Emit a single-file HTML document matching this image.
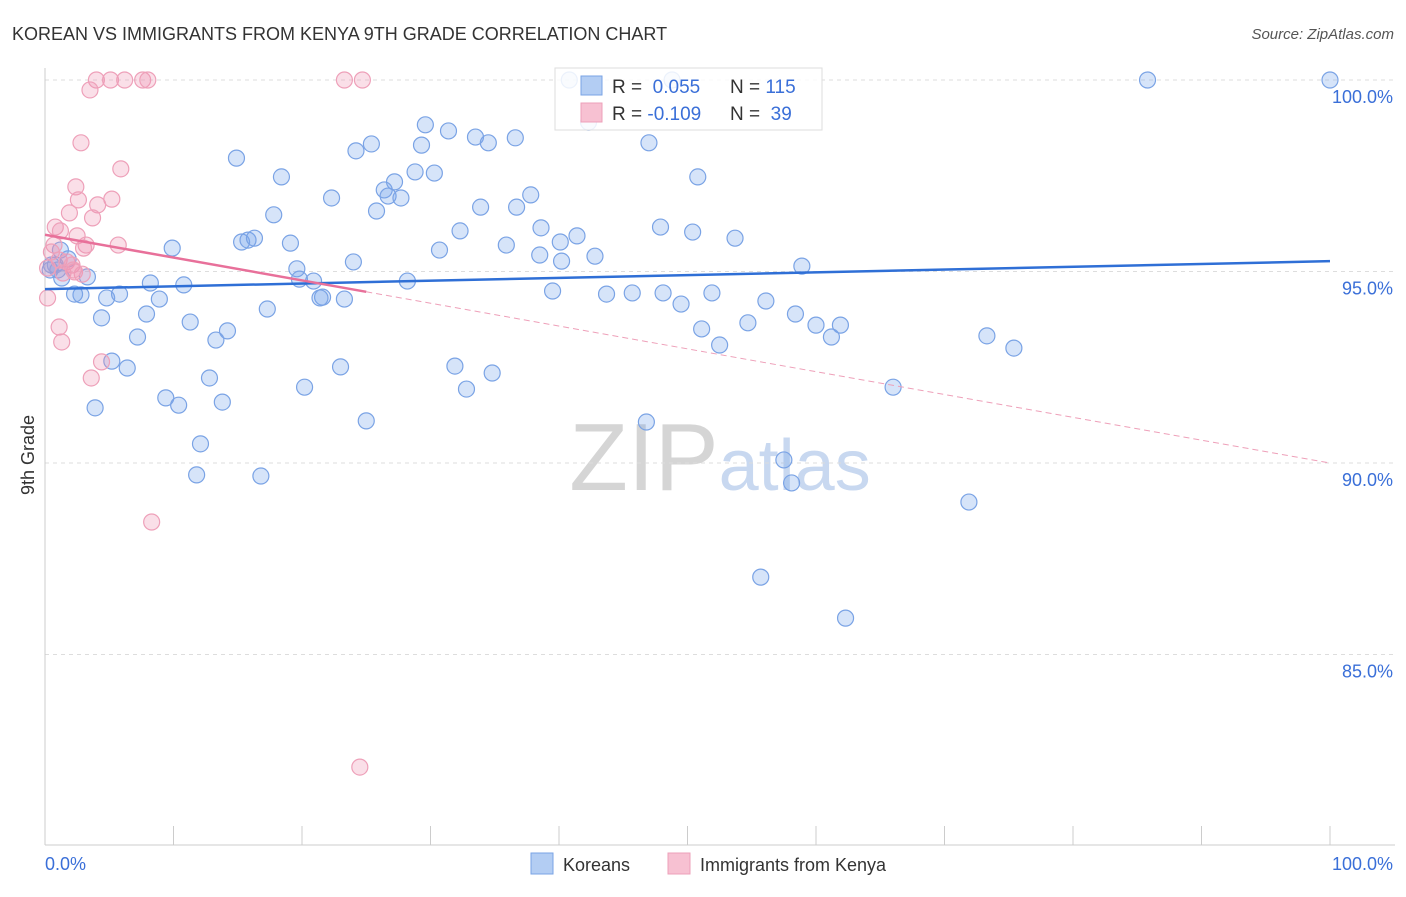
<!DOCTYPE html>
<html><head><meta charset="utf-8"><style>
body{margin:0;background:#fff;font-family:"Liberation Sans",sans-serif}
svg text{font-family:"Liberation Sans",sans-serif}
</style></head><body>
<svg id="chart" width="1406" height="892" xmlns="http://www.w3.org/2000/svg">
<text x="12" y="40" font-size="18" fill="#333">KOREAN VS IMMIGRANTS FROM KENYA 9TH GRADE CORRELATION CHART</text>
<text x="1394" y="39" font-size="15" fill="#555" text-anchor="end" font-style="italic">Source: ZipAtlas.com</text>
<text x="720" y="490" font-size="96" text-anchor="middle" fill="#ddd" font-family="Liberation Serif"><tspan fill="#d5d5d5">ZIP</tspan><tspan fill="#c8d8f0" font-family="Liberation Sans" font-size="72">atlas</tspan></text>
<text transform="translate(34,455) rotate(-90)" font-size="18" fill="#333" text-anchor="middle">9th Grade</text>
<g id="grid"></g><g id="pts"></g><g id="trend"></g>
<g>
<rect x="555" y="68" width="267" height="62" fill="rgba(255,255,255,0.85)" stroke="#ddd"/>
<rect x="581" y="76" width="21" height="19" fill="#b3cdf3" stroke="#7aa3e5"/>
<rect x="581" y="103" width="21" height="19" fill="#f7c1d2" stroke="#eea0b9"/>
<text x="612" y="93" font-size="19" fill="#333">R = <tspan fill="#3a6fd8">&#160;0.055</tspan></text>
<text x="730" y="93" font-size="19" fill="#333">N = <tspan fill="#3a6fd8">115</tspan></text>
<text x="612" y="120" font-size="19" fill="#333">R = <tspan fill="#3a6fd8">-0.109</tspan></text>
<text x="730" y="120" font-size="19" fill="#333">N = <tspan fill="#3a6fd8">&#160;39</tspan></text>
</g>
<g>
<rect x="531" y="853" width="22" height="21" fill="#b3cdf3" stroke="#7aa3e5"/>
<text x="563" y="871" font-size="18" fill="#333">Koreans</text>
<rect x="668" y="853" width="22" height="21" fill="#f7c1d2" stroke="#eea0b9"/>
<text x="700" y="871" font-size="18" fill="#333">Immigrants from Kenya</text>
</g>
</svg>
<script>
const blueX=[85.8,100,40.8,48.8,29.6,31.4,33.5,34.5,36.6,42.3,47.0,25.4,24.2,29.3,14.9,18.4,28.8,30.3,27.2,26.4,26.7,27.7,22.3,37.8,36.7,33.9,25.8,17.8,50.8,47.9,50.4,53.7,38.6,41.4,40.1,32.3,35.9,38.5,40.2,42.8,30.7,24.0,19.1,15.3,15.8,16.3,9.9,19.6,19.8,20.9,28.2,21.6,23.3,21.4,39.5,43.7,45.7,48.1,51.9,49.5,56.1,58.9,58.4,60.0,61.9,61.2,51.1,54.7,52.5,73.3,75.4,66.0,10.8,8.2,4.8,5.8,8.9,17.3,7.9,4.4,11.3,14.2,13.3,7.2,5.2,6.4,2.8,2.3,1.8,1.2,0.8,1.0,0.5,3.3,23.0,20.2,31.9,34.8,32.8,12.8,9.4,10.4,13.8,3.9,25.0,46.8,12.1,11.8,16.8,57.5,58.1,71.9,55.7,62.3,1.3,0.4];
const blueY=[100,100,100,100,98.83,98.67,98.51,98.36,98.49,98.90,98.36,98.33,98.15,98.30,97.96,97.47,97.60,97.57,97.34,97.13,96.97,96.92,96.92,97.00,96.68,96.68,96.58,96.48,97.47,96.16,96.03,95.87,96.14,95.93,95.77,96.06,95.69,95.43,95.27,95.40,95.56,95.25,95.74,95.77,95.82,95.87,95.61,95.07,94.80,94.75,94.75,94.33,94.28,94.31,94.49,94.41,94.44,94.44,94.44,94.15,94.23,95.14,93.89,93.60,93.60,93.29,93.50,93.66,93.08,93.32,93.00,91.98,94.65,94.70,94.31,94.41,94.28,94.02,93.89,93.79,93.68,93.45,93.21,93.29,92.66,92.48,94.39,94.41,95.33,95.56,95.17,95.04,95.17,94.86,92.51,91.98,92.53,92.35,91.93,92.22,91.70,91.51,91.59,91.44,91.10,91.07,90.50,89.69,89.66,90.08,89.48,88.98,87.02,85.95,94.83,95.04];
const pinkX=[4.0,5.1,6.2,7.6,8.0,23.3,24.7,3.5,2.8,5.9,2.4,2.6,5.2,4.1,1.9,3.7,0.8,1.2,2.5,0.7,3.2,5.7,0.5,3.0,1.1,1.7,2.1,2.3,2.9,1.4,0.2,1.1,1.3,4.4,3.6,8.3,24.5,0.2,2.2];
const pinkY=[100,100,100,100,100,100,100,99.74,98.36,97.68,97.21,96.87,96.89,96.74,96.53,96.40,96.16,96.06,95.93,95.69,95.69,95.69,95.51,95.61,95.30,95.25,95.17,94.99,94.93,94.96,94.31,93.55,93.16,92.64,92.22,88.46,82.06,95.09,95.04];
const blueTrend=[94.54,95.27];
const pinkTrend=[95.96,90.0];
const pinkSolidEnd=25;
const yTicks=[100,95,90,85];
const yTickLabels=["100.0%","95.0%","90.0%","85.0%"];
const xTicks=[0,10,20,30,40,50,60,70,80,90,100];

const X0=45,X1=1330,Y100=80,PXPER=38.3;
const sx=v=>X0+(X1-X0)*v/100;
const sy=v=>Y100+(100-v)*PXPER;
const NS="http://www.w3.org/2000/svg";
function mk(tag,attrs,parent){const e=document.createElementNS(NS,tag);for(const k in attrs)e.setAttribute(k,attrs[k]);parent.appendChild(e);return e;}
const grid=document.getElementById('grid');
mk('line',{x1:45,y1:80,x2:1395,y2:80,stroke:'#ddd','stroke-dasharray':'4,4'},grid);
yTicks.forEach((t,i)=>{
  const l=mk('line',{x1:45,y1:sy(t),x2:1395,y2:sy(t),stroke:'#ddd','stroke-dasharray':'4,4'},grid);
  
  
  const tx=mk('text',{x:1393,y:sy(t)+23,'font-size':18,fill:'#3a6fd8','text-anchor':'end'},grid);
  tx.textContent=yTickLabels[i];
  
  
});
mk('line',{x1:45,y1:68,x2:45,y2:845,stroke:'#ccc'},grid);
mk('line',{x1:45,y1:845,x2:1395,y2:845,stroke:'#ccc'},grid);
xTicks.forEach(t=>{
  const l=mk('line',{x1:sx(t),y1:826,x2:sx(t),y2:845,stroke:'#ccc'},grid);
  
  
});
const xl=mk('text',{x:45,y:870,'font-size':18,fill:'#3a6fd8'},grid);xl.textContent='0.0%';


const xr=mk('text',{x:1393,y:870,'font-size':18,fill:'#3a6fd8','text-anchor':'end'},grid);xr.textContent='100.0%';



const pts=document.getElementById('pts');
blueX.forEach((x,i)=>{
  const c=mk('circle',{cx:sx(x),cy:sy(blueY[i]),r:8,fill:'rgba(120,165,235,0.3)',stroke:'#7aa3e5','stroke-width':1.2},pts);
  
  
});
pinkX.forEach((x,i)=>{
  const c=mk('circle',{cx:sx(x),cy:sy(pinkY[i]),r:8,fill:'rgba(240,150,180,0.3)',stroke:'#eea0b9','stroke-width':1.2},pts);
  
  
});
const tr=document.getElementById('trend');
const bl=mk('line',{x1:sx(0),y1:sy(blueTrend[0]),x2:sx(100),y2:sy(blueTrend[1]),stroke:'#2f6fd6','stroke-width':2.5},tr);


const pv=x=>pinkTrend[0]+(pinkTrend[1]-pinkTrend[0])*x/100;
const pl=mk('line',{x1:sx(0),y1:sy(pv(0)),x2:sx(pinkSolidEnd),y2:sy(pv(pinkSolidEnd)),stroke:'#e8709a','stroke-width':2.5},tr);


const pd=mk('line',{x1:sx(pinkSolidEnd),y1:sy(pv(pinkSolidEnd)),x2:sx(100),y2:sy(pv(100)),stroke:'#eea0b9','stroke-width':1,'stroke-dasharray':'6,4'},tr);


</script>
</body></html>
